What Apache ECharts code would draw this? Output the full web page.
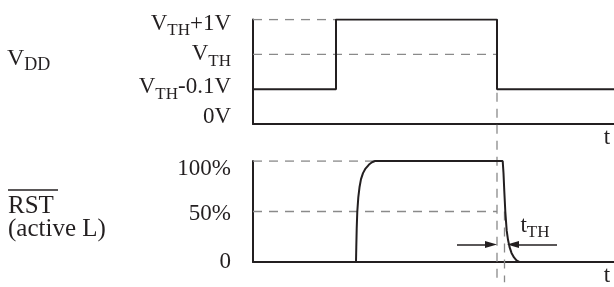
<!DOCTYPE html>
<html>
<head>
<meta charset="utf-8">
<script src="https://cdn.jsdelivr.net/npm/echarts@6/dist/echarts.min.js"></script>
<style>
  html, body { margin: 0; padding: 0; background: #fff; }
  #chart { width: 614px; height: 287px; }
</style>
</head>
<body>
<div id="chart"></div>
<script>
// time runs in arbitrary units across the plot width
const timeRange = [0, 361];

// V_DD waveform, level index: 0 = 0V, 1 = VTH-0.1V, 2 = VTH, 3 = VTH+1V
const vddTime  = [0, 83, 83, 244, 244, 361];
const vddLevel = [1, 1, 3, 3, 1, 1];
const vddTicks = ['0V', 'V_TH-0.1V', 'V_TH', 'V_TH+1V'];

// RST output, % of high level
const rstTime = [0, 103, 103.3, 103.7, 104.3, 105.3, 106.5, 108, 110, 112.5, 116, 119, 122,
                 249.7, 250.5, 251.3, 252.3, 253.7, 255, 256.5, 258.5, 261, 263.5, 266.3, 361];
const rstPct  = [0, 0, 15, 33, 50, 64, 74, 82, 88, 92.5, 96.5, 98.8, 100,
                 100, 88, 70, 50, 31, 22, 15, 9, 4.5, 1.5, 0, 0];
const rstTickValues = [0, 50, 100];
const rstTicks = ['0', '50%', '100%'];

// dashed guides
const vthHighGuide = [[0, 3], [83, 3]];
const vthGuide     = [[0, 2], [244, 2]];
const fullGuide    = [[0, 100], [122, 100]];
const halfGuide    = [[0, 50], [244, 50]];
const dropMarker   = [[244, 167.6], [244, -20]];   // RST-panel units, runs up into V_DD panel
const halfMarker   = [[251.5, 50], [251.5, -20]];

// t_TH arrows
const tthLeft  = [[204, 17.4], [238, 17.4]];
const tthRight = [[260, 17.4], [304, 17.4]];

const INK = '#231f20';
const GUIDE = '#8a8a8a';
const FONT = 'Liberation Serif';

// tick label nudges (px, + = down) so labels sit like the original
const vddNudge = [-7, -2, 0, 4];
const rstNudge = [0, 2, 8];

function pad(d) {
  return d >= 0 ? [2 * d, 0, 0, 0] : [0, 0, -2 * d, 0];
}
function makeRich(nudges) {
  const rich = {};
  nudges.forEach((d, i) => {
    rich['m' + i] = { fontFamily: FONT, fontSize: 23, color: INK, padding: pad(d) };
    rich['s' + i] = { fontFamily: FONT, fontSize: 17, color: INK, padding: pad(d + 7) };
  });
  return rich;
}
function richLabel(text, i) {
  const parts = text.split('_TH');
  if (parts.length === 1) return '{m' + i + '|' + text + '}';
  let out = '{m' + i + '|' + parts[0] + '}{s' + i + '|TH}';
  if (parts[1]) out += '{m' + i + '|' + parts[1] + '}';
  return out;
}

function pairs(xs, ys) {
  return xs.map((x, i) => [x, ys[i]]);
}

function guide(data, xi, clip) {
  return {
    type: 'line', xAxisIndex: xi, yAxisIndex: xi, data: data,
    symbol: 'none', silent: true, clip: clip !== false,
    lineStyle: { color: GUIDE, width: 1.3, type: [9, 7] }, z: 1
  };
}

function xAxisCfg(gi) {
  return {
    gridIndex: gi, type: 'value', min: timeRange[0], max: timeRange[1],
    axisLine: { show: true, onZero: false, lineStyle: { color: INK, width: 2 } },
    axisTick: { show: false }, axisLabel: { show: false }, splitLine: { show: false },
    name: 't', nameLocation: 'end', nameGap: -7,
    nameTextStyle: { fontFamily: FONT, fontSize: 23, color: INK, align: 'center', verticalAlign: 'top', padding: [2, 0, 0, 0] }
  };
}

const tthLabel = {
  show: true, position: 'middle', distance: 3,
  formatter: 't{s|TH}',
  fontFamily: FONT, fontSize: 23, color: INK,
  rich: { s: { fontFamily: FONT, fontSize: 17, color: INK, padding: [14, 0, 0, 0] } }
};

const chart = echarts.init(document.getElementById('chart'));
chart.setOption({
  animation: false,
  backgroundColor: '#fff',
  grid: [
    { left: 253, right: 0, top: 19.5, height: 104.5 },
    { left: 253, right: 0, top: 161, height: 105 }
  ],
  xAxis: [xAxisCfg(0), xAxisCfg(1)],
  yAxis: [
    {
      gridIndex: 0, type: 'value', min: 0, max: 3, interval: 1,
      axisLine: { show: true, onZero: false, lineStyle: { color: INK, width: 2 } },
      axisTick: { show: false }, splitLine: { show: false },
      axisLabel: {
        margin: 22, fontFamily: FONT, fontSize: 23, color: INK,
        formatter: v => richLabel(vddTicks[v], v),
        rich: makeRich(vddNudge)
      }
    },
    {
      gridIndex: 1, type: 'value', min: 0, max: 100, interval: 50,
      axisLine: { show: true, onZero: false, lineStyle: { color: INK, width: 2 } },
      axisTick: { show: false }, splitLine: { show: false },
      axisLabel: {
        margin: 22, fontFamily: FONT, fontSize: 23, color: INK,
        formatter: v => {
          const i = rstTickValues.indexOf(v);
          return richLabel(rstTicks[i], i);
        },
        rich: makeRich(rstNudge)
      }
    }
  ],
  graphic: [
    {
      type: 'text', x: 7, y: 58.5,
      style: {
        text: 'V{s|DD}', fontFamily: FONT, fontSize: 24, fill: INK, verticalAlign: 'middle',
        rich: { s: { fontFamily: FONT, fontSize: 18, fill: INK, padding: [14, 0, 0, 0] } }
      }
    },
    {
      type: 'text', x: 8, y: 206,
      style: { text: 'RST', fontFamily: FONT, fontSize: 25, fill: INK, verticalAlign: 'middle' }
    },
    {
      type: 'line', shape: { x1: 8, y1: 190, x2: 58, y2: 190 },
      style: { stroke: INK, lineWidth: 1.5 }
    },
    {
      type: 'text', x: 8, y: 229,
      style: { text: '(active L)', fontFamily: FONT, fontSize: 25, fill: INK, verticalAlign: 'middle' }
    }
  ],
  series: [
    guide(vthHighGuide, 0),
    guide(vthGuide, 0),
    {
      type: 'line', xAxisIndex: 0, yAxisIndex: 0, data: pairs(vddTime, vddLevel),
      symbol: 'none', lineStyle: { color: INK, width: 2 }, z: 3
    },
    guide(fullGuide, 1),
    guide(halfGuide, 1),
    guide(dropMarker, 1, false),
    guide(halfMarker, 1, false),
    {
      type: 'line', xAxisIndex: 1, yAxisIndex: 1, data: pairs(rstTime, rstPct),
      symbol: 'none', lineStyle: { color: INK, width: 2 }, z: 3,
      markLine: {
        silent: true, animation: false,
        symbolSize: [7, 12],
        lineStyle: { color: INK, width: 1.5, type: 'solid' },
        label: { show: false },
        data: [
          [
            { coord: tthLeft[0], symbol: 'none' },
            { coord: tthLeft[1], symbol: 'triangle' }
          ],
          [
            { coord: tthRight[0], symbol: 'triangle', label: tthLabel },
            { coord: tthRight[1], symbol: 'none', label: tthLabel }
          ]
        ]
      }
    }
  ]
});
</script>
</body>
</html>
